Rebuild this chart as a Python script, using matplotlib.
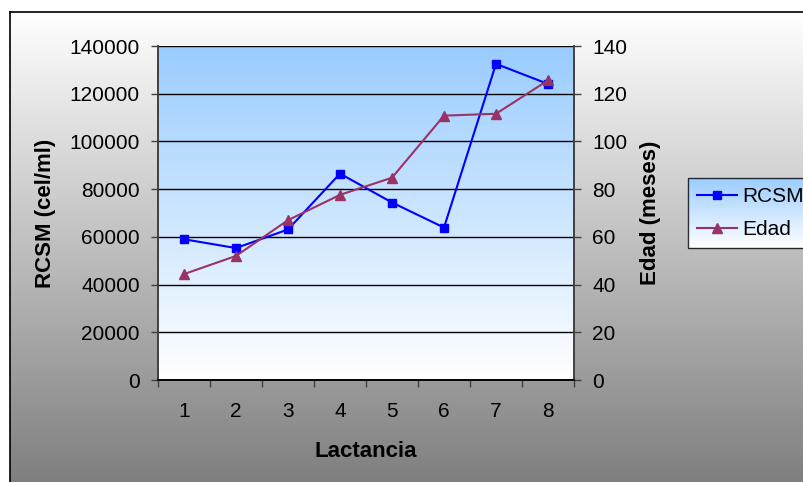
import numpy as np
import matplotlib
matplotlib.use('Agg')
import matplotlib.pyplot as plt
from matplotlib.colors import LinearSegmentedColormap

plt.rcParams['font.family'] = ['Liberation Sans', 'DejaVu Sans']

lactancia = [1, 2, 3, 4, 5, 6, 7, 8]
rcsm = [59000, 55300, 63100, 86500, 74400, 63900, 132500, 124100]
edad = [44.4, 52.0, 67.0, 77.6, 84.8, 110.8, 111.6, 125.6]

W, H = 804, 482
fig = plt.figure(figsize=(W / 100, H / 100), dpi=100, facecolor='white')

def fx(px):
    return px / W

def fy(py):
    return 1 - py / H

def gradient(axes, cmap):
    # row 0 of the image is drawn at the top
    axes.imshow(np.linspace(0, 1, 256).reshape(-1, 1), cmap=cmap,
                aspect='auto', extent=[0, 1, 0, 1], origin='upper')
    axes.set_xlim(0, 1)
    axes.set_ylim(0, 1)

# chart area background: white -> gray gradient with black frame
bg = fig.add_axes([fx(10), 0, 1 - fx(10), fy(12)], zorder=-10)
gray = LinearSegmentedColormap.from_list('g', ['#ffffff', '#7f7f7f'])
gradient(bg, gray)
bg.set_xticks([])
bg.set_yticks([])
for s in ['right', 'bottom']:
    bg.spines[s].set_visible(False)
for s in ['left', 'top']:
    bg.spines[s].set_color('black')
    bg.spines[s].set_linewidth(1.2)

# plot area gradient
rect = [fx(158), fy(380), fx(574) - fx(158), fy(46) - fy(380)]
pa = fig.add_axes(rect, zorder=-5)
blue = LinearSegmentedColormap.from_list('b', ['#99ccff', '#ffffff'])
gradient(pa, blue)
pa.axis('off')

ax = fig.add_axes(rect, zorder=1)
ax.patch.set_visible(False)
ax2 = ax.twinx()

for y in range(20000, 140001, 20000):
    ax.axhline(y, color='black', linewidth=1.0, zorder=1)

ax.plot(lactancia, rcsm, color='#0000ff', marker='s', markersize=5.5,
        linewidth=1.5, label='RCSM', zorder=3)
ax2.plot(lactancia, edad, color='#993366', marker='^', markersize=6.5,
         linewidth=1.5, label='Edad', zorder=3)

ax.set_xlim(0.5, 8.5)
ax.set_ylim(0, 140000)
ax2.set_ylim(0, 140)
ax.set_yticks(range(0, 140001, 20000))
ax2.set_yticks(range(0, 141, 20))

ax.set_xticks(np.arange(0.5, 8.6, 1))
ax.set_xticklabels([])
ax.set_xticks(lactancia, minor=True)
ax.set_xticklabels([str(v) for v in lactancia], minor=True)
ax.tick_params(axis='x', which='major', direction='out', length=5, width=1, color='#404040')
ax.tick_params(axis='x', which='minor', length=0, pad=16, labelsize=15)
ax.tick_params(axis='y', direction='out', length=5, width=1, pad=8,
               labelsize=15, color='#404040')
ax2.tick_params(axis='y', direction='out', length=5, width=1, pad=8,
                labelsize=15, color='#404040')

for a in (ax, ax2):
    a.spines['top'].set_visible(False)
    a.spines['left'].set_color('#404040')
    a.spines['right'].set_color('#404040')
    a.spines['bottom'].set_color('black')
    for s in a.spines.values():
        s.set_linewidth(1.2)

ax.set_xlabel('Lactancia', fontsize=16, fontweight='bold', labelpad=14)
ax.set_ylabel('RCSM (cel/ml)', fontsize=16, fontweight='bold', labelpad=10)
ax2.set_ylabel('Edad (meses)', fontsize=16, fontweight='bold', labelpad=9)

h1, l1 = ax.get_legend_handles_labels()
h2, l2 = ax2.get_legend_handles_labels()
leg = fig.legend(h1 + h2, l1 + l2, loc='upper left',
                 bbox_to_anchor=(fx(688), fy(178)), fontsize=15,
                 frameon=True, fancybox=False, handlelength=1.9,
                 handletextpad=0.25, borderpad=0.45, labelspacing=0.65,
                 borderaxespad=0)
leg.get_frame().set_edgecolor('black')
leg.get_frame().set_linewidth(1.0)
leg.get_frame().set_facecolor('none')

fig.canvas.draw()
bb = leg.get_window_extent().transformed(fig.transFigure.inverted())
lg = fig.add_axes([bb.x0, bb.y0, bb.width, bb.height], zorder=-4)
gradient(lg, blue)
lg.axis('off')

fig.savefig('out.png', dpi=100, facecolor='white')
